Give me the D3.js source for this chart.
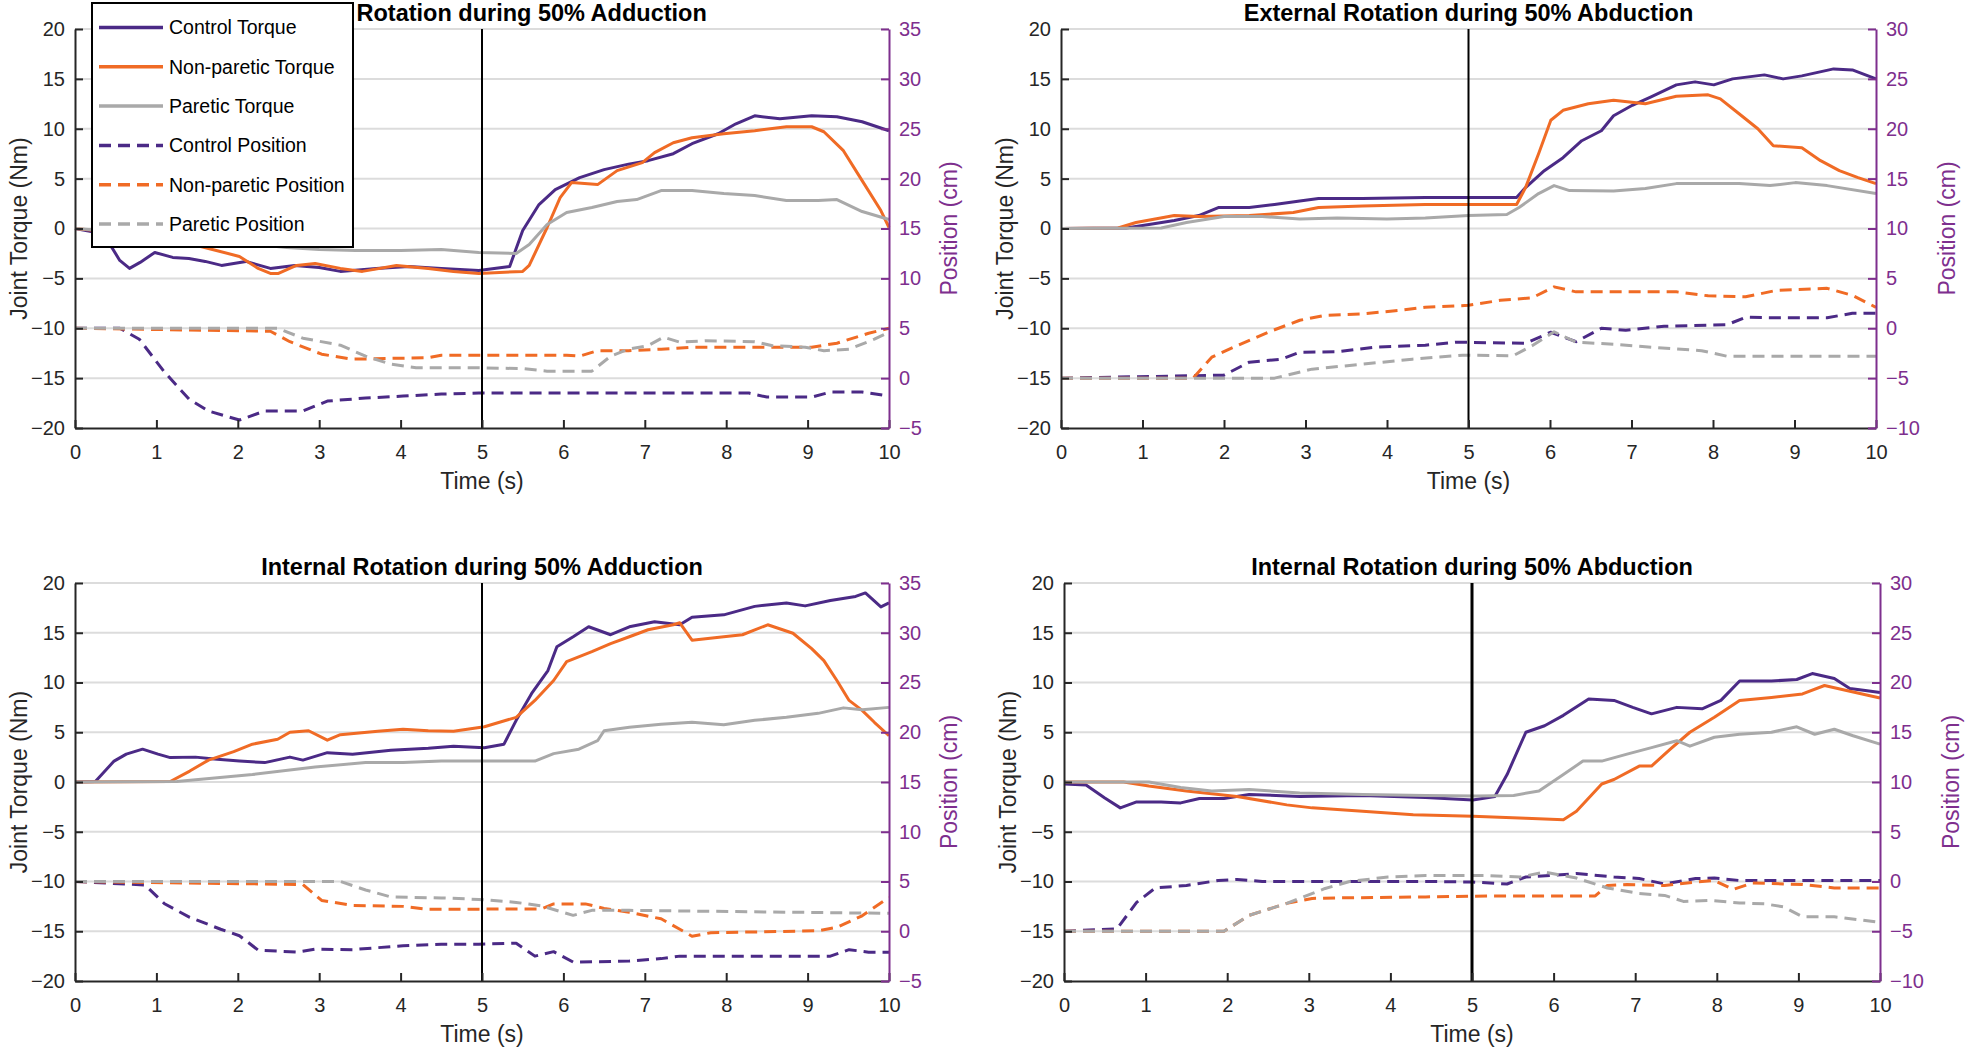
<!DOCTYPE html>
<html>
<head>
<meta charset="utf-8">
<script src="https://cdn.jsdelivr.net/npm/d3@7"></script>
<style>
  html, body { margin: 0; padding: 0; background: #fff; }
  svg { display: block; font-family: "Liberation Sans", Arial, Helvetica, sans-serif; }
</style>
</head>
<body>
<svg id="chart" width="1969" height="1052"></svg>
<script>
// ---------------- DATA ----------------
const titles = [
  "External Rotation during 50% Adduction",
  "External Rotation during 50% Abduction",
  "Internal Rotation during 50% Adduction",
  "Internal Rotation during 50% Abduction"
];
// the first panel's title is partly covered by the legend; only this part shows
const titleVisiblePart = "Rotation during 50% Adduction";
const seriesNames = ["Control Torque", "Non-paretic Torque", "Paretic Torque",
                     "Control Position", "Non-paretic Position", "Paretic Position"];
const timeTicks = [0,1,2,3,4,5,6,7,8,9,10];
const torqueTicks = [-20,-15,-10,-5,0,5,10,15,20];
const positionTicksAdd = [-5,0,5,10,15,20,25,30,35];
const positionTicksAbd = [-10,-5,0,5,10,15,20,25,30];
const markerTime = 5;

// Panel 1: External Rotation during 50% Adduction  (torque Nm, position cm)
const p1ControlTorque = [[0,0],[0.2,-0.3],[0.4,-1.2],[0.55,-3.2],[0.67,-4],[0.8,-3.4],[0.98,-2.4],[1.2,-2.9],[1.4,-3.0],[1.6,-3.3],[1.8,-3.7],[2.1,-3.3],[2.4,-4],[2.7,-3.7],[3.0,-3.9],[3.26,-4.3],[3.7,-4],[4.1,-3.8],[4.5,-4],[4.96,-4.2],[5.34,-3.8],[5.5,-0.2],[5.7,2.4],[5.9,3.9],[6.2,5.1],[6.5,5.9],[6.8,6.45],[7.04,6.8],[7.35,7.5],[7.58,8.5],[7.9,9.5],[8.12,10.5],[8.35,11.3],[8.66,11.0],[9.05,11.3],[9.36,11.2],[9.67,10.7],[10,9.8]];
const p1NonpareticTorque = [[0,0],[0.5,-0.4],[1.0,-0.9],[1.4,-1.5],[1.64,-2.0],[2.02,-2.8],[2.25,-4.0],[2.4,-4.5],[2.5,-4.5],[2.72,-3.7],[2.95,-3.5],[3.26,-4.0],[3.53,-4.3],[3.95,-3.7],[4.34,-4.0],[4.65,-4.3],[4.96,-4.5],[5.5,-4.3],[5.58,-3.7],[5.8,0.1],[5.96,3.1],[6.1,4.6],[6.42,4.4],[6.66,5.8],[6.97,6.6],[7.12,7.6],[7.35,8.6],[7.58,9.1],[7.97,9.5],[8.35,9.8],[8.74,10.2],[9.05,10.2],[9.2,9.7],[9.44,7.8],[9.67,4.8],[9.9,1.8],[10,0.1]];
const p1PareticTorque = [[0,0],[1,-0.6],[2,-1.4],[2.6,-1.9],[3.0,-2.1],[3.45,-2.2],[4.0,-2.2],[4.5,-2.1],[4.96,-2.4],[5.42,-2.5],[5.58,-1.6],[5.8,0.4],[6.04,1.6],[6.35,2.1],[6.66,2.7],[6.9,2.9],[7.2,3.8],[7.58,3.8],[7.97,3.5],[8.35,3.3],[8.74,2.8],[9.13,2.8],[9.36,2.9],[9.67,1.7],[10,0.9]];
const p1ControlPosition = [[0,5],[0.55,5],[0.79,3.9],[1.1,0.6],[1.4,-2.1],[1.64,-3.3],[2.02,-4.2],[2.33,-3.3],[2.8,-3.3],[3.1,-2.3],[3.57,-2.0],[4.03,-1.8],[4.5,-1.6],[4.96,-1.5],[8.28,-1.5],[8.5,-1.9],[9.05,-1.9],[9.28,-1.4],[9.67,-1.4],[10,-1.8]];
const p1NonpareticPosition = [[0,5],[2.4,4.7],[2.64,3.65],[3.03,2.4],[3.4,1.9],[4.34,2.05],[4.5,2.3],[6.04,2.3],[6.2,2.2],[6.42,2.75],[6.8,2.75],[7.2,2.9],[7.58,3.1],[9.05,3.1],[9.36,3.5],[9.75,4.5],[10,5]];
const p1PareticPosition = [[0,5],[2.49,5],[2.8,4.0],[3.26,3.3],[3.57,2.2],[3.88,1.4],[4.19,1.05],[4.88,1.05],[5.5,0.95],[5.8,0.7],[6.35,0.7],[6.58,2.2],[6.8,2.9],[7.04,3.25],[7.23,4.1],[7.43,3.6],[7.74,3.75],[8.35,3.65],[8.57,3.25],[8.97,3.1],[9.2,2.75],[9.51,2.9],[9.82,3.9],[10,4.6]];

// Panel 2: External Rotation during 50% Abduction
const p2ControlTorque = [[0,0],[0.8,0.05],[1.08,0.4],[1.39,0.8],[1.69,1.3],[1.93,2.1],[2.31,2.1],[2.62,2.4],[2.93,2.75],[3.16,3.0],[3.7,3.0],[4.47,3.1],[5.0,3.1],[5.59,3.1],[5.7,4.1],[5.93,5.8],[6.16,7.1],[6.39,8.8],[6.63,9.8],[6.78,11.3],[7.01,12.35],[7.24,13.2],[7.55,14.4],[7.78,14.7],[8.01,14.4],[8.24,15.0],[8.63,15.4],[8.86,15.0],[9.09,15.3],[9.48,16.0],[9.71,15.9],[10,15.0]];
const p2NonpareticTorque = [[0,0],[0.7,0.05],[0.92,0.6],[1.39,1.3],[1.69,1.2],[2.31,1.3],[2.85,1.6],[3.16,2.1],[3.7,2.25],[4.47,2.4],[5.0,2.4],[5.59,2.4],[5.7,4.1],[5.86,7.5],[6.01,10.85],[6.16,11.85],[6.47,12.5],[6.78,12.85],[7.17,12.5],[7.55,13.25],[7.94,13.4],[8.09,13.0],[8.32,11.5],[8.55,10.0],[8.74,8.3],[9.09,8.1],[9.32,6.8],[9.55,5.8],[9.78,5.1],[10,4.5]];
const p2PareticTorque = [[0,0],[1.23,0.05],[1.54,0.6],[2.0,1.2],[2.47,1.2],[2.93,0.95],[3.39,1.05],[4.0,0.95],[4.47,1.05],[5.0,1.3],[5.47,1.4],[5.62,2.1],[5.86,3.5],[6.05,4.3],[6.24,3.8],[6.78,3.75],[7.17,4.0],[7.55,4.5],[8.32,4.5],[8.7,4.3],[9.01,4.6],[9.4,4.3],[10,3.5]];
const p2ControlPosition = [[0,-5],[2.0,-4.7],[2.31,-3.4],[2.7,-3.1],[2.93,-2.4],[3.39,-2.35],[3.85,-1.9],[4.47,-1.7],[4.85,-1.4],[5.7,-1.5],[6.01,-0.4],[6.32,-1.35],[6.63,0],[6.93,-0.2],[7.4,0.2],[8.17,0.35],[8.4,1.1],[8.78,1.05],[9.4,1.05],[9.71,1.5],[10,1.5]];
const p2NonpareticPosition = [[0,-5],[1.62,-5],[1.85,-2.9],[2.16,-1.75],[2.54,-0.4],[2.93,0.8],[3.24,1.3],[3.7,1.45],[4.16,1.8],[4.47,2.1],[5.0,2.3],[5.39,2.8],[5.78,3.05],[6.05,4.15],[6.32,3.65],[7.55,3.65],[7.94,3.25],[8.4,3.15],[8.78,3.8],[9.4,4.0],[9.71,3.3],[10,2.1]];
const p2PareticPosition = [[0,-5],[2.62,-5],[3.08,-4.1],[3.7,-3.6],[4.31,-3.1],[4.93,-2.7],[5.55,-2.75],[5.78,-1.75],[6.05,-0.35],[6.32,-1.4],[6.78,-1.6],[7.24,-1.9],[7.86,-2.25],[8.17,-2.8],[10,-2.8]];

// Panel 3: Internal Rotation during 50% Adduction
const p3ControlTorque = [[0,0],[0.25,0.05],[0.48,2.1],[0.63,2.8],[0.83,3.3],[1.02,2.8],[1.17,2.45],[1.48,2.5],[1.71,2.3],[2.02,2.1],[2.33,1.95],[2.64,2.5],[2.8,2.2],[3.1,2.95],[3.41,2.8],[3.88,3.2],[4.34,3.4],[4.65,3.6],[5.03,3.45],[5.27,3.8],[5.42,6.2],[5.61,8.9],[5.81,11.2],[5.92,13.6],[6.12,14.6],[6.31,15.6],[6.58,14.8],[6.81,15.6],[7.12,16.1],[7.43,15.8],[7.58,16.55],[7.97,16.8],[8.35,17.65],[8.74,18.0],[8.97,17.7],[9.28,18.25],[9.59,18.65],[9.71,19.0],[9.9,17.6],[10,18.0]];
const p3NonpareticTorque = [[0,0],[1.17,0.05],[1.41,1.1],[1.64,2.2],[1.95,3.05],[2.18,3.8],[2.49,4.3],[2.64,5.0],[2.87,5.15],[3.1,4.2],[3.26,4.75],[3.72,5.1],[4.03,5.3],[4.34,5.15],[4.65,5.1],[5.03,5.55],[5.42,6.5],[5.65,8.2],[5.88,10.2],[6.04,12.1],[6.35,13.1],[6.58,13.9],[6.81,14.6],[7.04,15.3],[7.35,15.8],[7.43,16.0],[7.58,14.25],[7.97,14.6],[8.2,14.8],[8.51,15.8],[8.82,14.95],[9.05,13.4],[9.2,12.2],[9.36,10.2],[9.51,8.2],[9.67,7.2],[9.82,6.0],[10,4.65]];
const p3PareticTorque = [[0,0],[1.25,0.05],[2.18,0.75],[2.95,1.5],[3.57,1.95],[4.03,1.95],[4.5,2.1],[5.03,2.1],[5.65,2.1],[5.88,2.85],[6.19,3.3],[6.42,4.15],[6.5,5.15],[6.81,5.5],[7.2,5.8],[7.58,6.0],[7.97,5.75],[8.35,6.2],[8.74,6.5],[9.13,6.9],[9.44,7.45],[9.67,7.25],[10,7.5]];
const p3ControlPosition = [[0,5],[0.86,4.65],[1.1,2.76],[1.41,1.4],[1.79,0.2],[2.02,-0.45],[2.25,-1.9],[2.72,-2.1],[2.95,-1.8],[3.41,-1.85],[4.03,-1.45],[4.5,-1.3],[4.96,-1.3],[5.42,-1.2],[5.65,-2.5],[5.88,-2.05],[6.12,-3.1],[6.81,-3.0],[7.2,-2.75],[7.43,-2.5],[9.28,-2.5],[9.51,-1.85],[9.75,-2.1],[10,-2.1]];
const p3NonpareticPosition = [[0,5],[2.8,4.7],[3.03,3.1],[3.41,2.6],[4.03,2.5],[4.34,2.2],[5.73,2.25],[5.88,2.75],[6.27,2.75],[6.5,2.3],[6.81,1.9],[7.2,1.25],[7.43,0.2],[7.58,-0.5],[7.81,-0.15],[9.13,0.05],[9.36,0.4],[9.67,1.55],[10,3.4]];
const p3PareticPosition = [[0,5],[3.26,5],[3.57,4.15],[3.88,3.45],[4.5,3.35],[4.96,3.2],[5.42,2.9],[5.73,2.55],[6.12,1.6],[6.35,2.1],[6.81,2.1],[10,1.8]];

// Panel 4: Internal Rotation during 50% Abduction
const p4ControlTorque = [[0,-0.2],[0.27,-0.3],[0.5,-1.6],[0.69,-2.6],[0.89,-2.0],[1.19,-2.0],[1.43,-2.1],[1.66,-1.65],[1.96,-1.65],[2.27,-1.25],[2.89,-1.45],[3.66,-1.35],[4.43,-1.55],[5.01,-1.8],[5.28,-1.45],[5.43,0.75],[5.66,5.0],[5.89,5.65],[6.12,6.7],[6.43,8.35],[6.74,8.2],[6.97,7.5],[7.2,6.85],[7.51,7.5],[7.82,7.35],[8.05,8.2],[8.28,10.15],[8.67,10.15],[8.98,10.3],[9.17,10.9],[9.44,10.4],[9.63,9.4],[9.82,9.2],[10,9.0]];
const p4NonpareticTorque = [[0,0],[0.73,0],[1.04,-0.4],[1.5,-0.9],[2.12,-1.45],[2.73,-2.3],[3.04,-2.6],[3.66,-2.95],[4.28,-3.3],[5.01,-3.45],[5.66,-3.65],[6.12,-3.8],[6.28,-2.95],[6.59,-0.2],[6.74,0.25],[7.05,1.6],[7.2,1.6],[7.43,3.3],[7.67,5.0],[7.97,6.5],[8.28,8.2],[8.67,8.5],[9.05,8.85],[9.32,9.7],[9.59,9.2],[10,8.45]];
const p4PareticTorque = [[0,0],[1.04,0],[1.43,-0.55],[1.81,-0.9],[2.27,-0.75],[2.89,-1.1],[3.66,-1.25],[4.43,-1.35],[5.05,-1.4],[5.51,-1.35],[5.82,-0.9],[6.12,0.75],[6.36,2.1],[6.59,2.1],[6.9,2.8],[7.2,3.45],[7.51,4.15],[7.67,3.6],[7.97,4.5],[8.28,4.8],[8.67,5.0],[8.98,5.55],[9.2,4.8],[9.44,5.3],[9.67,4.65],[10,3.8]];
const p4ControlPosition = [[0,-5],[0.65,-4.75],[0.89,-2.1],[1.12,-0.65],[1.5,-0.4],[1.89,0.1],[2.12,0.2],[2.43,0],[4.43,0],[5.01,-0.05],[5.43,-0.25],[5.66,0.45],[5.97,0.6],[6.28,0.8],[6.74,0.45],[7.05,0.3],[7.36,-0.25],[7.74,0.3],[7.97,0.35],[8.28,0.1],[10,0.1]];
const p4NonpareticPosition = [[0,-5],[1.96,-5],[2.27,-3.4],[2.73,-2.2],[3.04,-1.7],[3.35,-1.65],[4.43,-1.55],[5.2,-1.45],[6.51,-1.45],[6.66,-0.4],[6.9,-0.3],[7.36,-0.4],[7.74,-0.05],[7.97,0.1],[8.2,-0.8],[8.44,-0.15],[9.05,-0.3],[9.44,-0.65],[10,-0.65]];
const p4PareticPosition = [[0,-5],[1.96,-5],[2.27,-3.4],[2.73,-2.2],[3.2,-0.7],[3.5,0],[3.97,0.45],[4.43,0.6],[5.2,0.6],[5.59,0.45],[5.89,0.95],[6.28,0.35],[6.66,-0.65],[7.05,-1.2],[7.36,-1.4],[7.59,-2.0],[7.9,-1.9],[8.28,-2.15],[8.59,-2.25],[8.82,-2.55],[9.05,-3.55],[9.44,-3.55],[10,-4.1]];

// ---------------- STYLE / LAYOUT ----------------
const colors = ["#4B2A86", "#F06B25", "#A9A9A9", "#4B2A86", "#F06B25", "#A9A9A9"];
const dashed = [false, false, false, true, true, true];
const axisColor = "#262626";
const rightColor = "#7E2F8E";
const gridColor = "#DCDCDC";

const panels = [
  {title: titles[0], x0: 75,   x1: 889,  y0: 29,  y1: 428, rTicks: positionTicksAdd,
   series: [p1ControlTorque, p1NonpareticTorque, p1PareticTorque, p1ControlPosition, p1NonpareticPosition, p1PareticPosition],
   legend: true, visibleTitle: titleVisiblePart},
  {title: titles[1], x0: 1061, x1: 1876, y0: 29,  y1: 428, rTicks: positionTicksAbd,
   series: [p2ControlTorque, p2NonpareticTorque, p2PareticTorque, p2ControlPosition, p2NonpareticPosition, p2PareticPosition]},
  {title: titles[2], x0: 75,   x1: 889,  y0: 583, y1: 981, rTicks: positionTicksAdd,
   series: [p3ControlTorque, p3NonpareticTorque, p3PareticTorque, p3ControlPosition, p3NonpareticPosition, p3PareticPosition]},
  {title: titles[3], x0: 1064, x1: 1880, y0: 583, y1: 981, rTicks: positionTicksAbd,
   series: [p4ControlTorque, p4NonpareticTorque, p4PareticTorque, p4ControlPosition, p4NonpareticPosition, p4PareticPosition], thickMarker: true}
];

const svg = d3.select("#chart");
const legendPanels = [];

panels.forEach(p => {
  const g = svg.append("g");
  const x = d3.scaleLinear().domain([0, 10]).range([p.x0, p.x1]);
  const y = d3.scaleLinear().domain([-20, 20]).range([p.y1, p.y0]);
  const yr = d3.scaleLinear().domain(d3.extent(p.rTicks)).range([p.y1, p.y0]);

  // grid
  g.append("g").selectAll("line").data(torqueTicks.filter(d => d > -20)).join("line")
    .attr("x1", p.x0).attr("x2", p.x1)
    .attr("y1", d => y(d)).attr("y2", d => y(d))
    .attr("stroke", gridColor).attr("stroke-width", 2);

  // title
  const cx = (p.x0 + p.x1) / 2;
  const title = g.append("text").attr("x", cx).attr("y", p.y0 - 8)
    .attr("text-anchor", "middle").attr("font-size", 23.5).attr("font-weight", "bold")
    .attr("fill", "#000").text(p.title);
  if (p.visibleTitle) {
    // full title is centred; the legend hides its start, so show only the uncovered end
    const fullW = title.node().getComputedTextLength();
    title.attr("text-anchor", "end").attr("x", cx + fullW / 2).text(p.visibleTitle);
  }

  // series
  p.series.forEach((s, i) => {
    const sy = i < 3 ? y : yr;
    const line = d3.line().x(d => x(d[0])).y(d => sy(d[1]));
    g.append("path").datum(s).attr("d", line)
      .attr("fill", "none").attr("stroke", colors[i])
      .attr("stroke-width", 3)
      .attr("stroke-linejoin", "round")
      .attr("stroke-dasharray", dashed[i] ? "12,7" : null);
  });

  // marker line at t = 5
  g.append("line").attr("x1", x(markerTime)).attr("x2", x(markerTime))
    .attr("y1", p.y0).attr("y2", p.y1)
    .attr("stroke", "#000").attr("stroke-width", p.thickMarker ? 3 : 2);

  // axes
  const ax = g.append("g").attr("transform", `translate(0,${p.y1})`)
    .call(d3.axisBottom(x).tickValues(timeTicks).tickFormat(d3.format("d"))
      .tickSizeInner(-8).tickSizeOuter(0).tickPadding(17));
  const ay = g.append("g").attr("transform", `translate(${p.x0},0)`)
    .call(d3.axisLeft(y).tickValues(torqueTicks).tickFormat(d3.format("d"))
      .tickSizeInner(-8).tickSizeOuter(0).tickPadding(10));
  const ar = g.append("g").attr("transform", `translate(${p.x1},0)`)
    .call(d3.axisRight(yr).tickValues(p.rTicks).tickFormat(d3.format("d"))
      .tickSizeInner(-8).tickSizeOuter(0).tickPadding(10));

  [ax, ay].forEach(a => {
    a.select(".domain").attr("stroke", axisColor).attr("stroke-width", 2);
    a.selectAll(".tick line").attr("stroke", axisColor).attr("stroke-width", 2);
    a.selectAll(".tick text").attr("fill", axisColor).attr("font-size", 20)
      .attr("font-family", "Liberation Sans, Arial, sans-serif");
  });
  ar.select(".domain").attr("stroke", rightColor).attr("stroke-width", 2);
  ar.selectAll(".tick line").attr("stroke", rightColor).attr("stroke-width", 2);
  ar.selectAll(".tick text").attr("fill", rightColor).attr("font-size", 20)
    .attr("font-family", "Liberation Sans, Arial, sans-serif");

  // axis labels
  g.append("text").attr("x", cx).attr("y", p.y1 + 61)
    .attr("text-anchor", "middle").attr("font-size", 23).attr("fill", axisColor).text("Time (s)");

  const cy = (p.y0 + p.y1) / 2;
  g.append("text").attr("transform", `translate(${p.x0 - 56},${cy}) rotate(-90)`)
    .attr("dy", "0.35em").attr("text-anchor", "middle").attr("font-size", 23)
    .attr("fill", axisColor).text("Joint Torque (Nm)");

  let maxW = 0;
  ar.selectAll(".tick text").each(function() { maxW = Math.max(maxW, this.getBBox().width); });
  g.append("text").attr("transform", `translate(${p.x1 + 10 + maxW + 27},${cy}) rotate(-90)`)
    .attr("dy", "0.35em").attr("text-anchor", "middle").attr("font-size", 23)
    .attr("fill", rightColor).text("Position (cm)");

  if (p.legend) legendPanels.push(p);
});

// legend (drawn last, on top)
legendPanels.forEach(p => {
  const lg = svg.append("g").attr("transform", "translate(92,3)");
  lg.append("rect").attr("x", 0).attr("y", 0).attr("width", 261).attr("height", 244)
    .attr("fill", "#fff").attr("stroke", "#000").attr("stroke-width", 2);
  const rowY = d3.scaleLinear().domain([0, 5]).range([24.5, 221]);
  seriesNames.forEach((name, i) => {
    lg.append("line").attr("x1", 7).attr("x2", 71)
      .attr("y1", rowY(i)).attr("y2", rowY(i))
      .attr("stroke", colors[i]).attr("stroke-width", 3.5)
      .attr("stroke-dasharray", dashed[i] ? "12,7" : null);
    lg.append("text").attr("x", 77).attr("y", rowY(i)).attr("dy", "0.35em")
      .attr("font-size", 19.5).attr("fill", "#000").text(name);
  });
});
</script>
</body>
</html>
